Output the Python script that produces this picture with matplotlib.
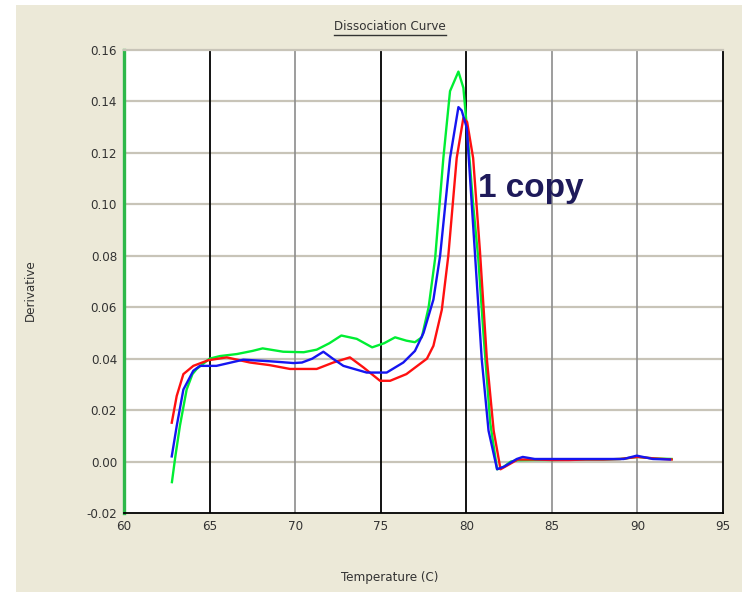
import matplotlib
matplotlib.use("Agg")
import matplotlib.pyplot as plt
from matplotlib.patches import Rectangle
from matplotlib.lines import Line2D
from matplotlib import font_manager

# Melt-curve derivative readings for three replicates
temp_green = [62.8, 63.0, 63.27, 63.66, 64.0, 64.25, 65.0, 65.6, 66.6, 67.5, 68.1, 69.3, 70.5,
              71.26, 72.0, 72.7, 73.6, 74.5, 75.2, 75.84, 76.5, 77.0, 77.4, 77.8, 78.18, 78.66,
              79.05, 79.54, 79.83, 80.1, 80.4, 80.7, 81.0, 81.4, 81.8, 82.2, 82.6, 83.0, 84.0,
              85.0, 86.0, 87.0, 88.0, 89.0, 90.0, 91.0, 92.0]
deriv_green = [-0.008, 0.002, 0.014, 0.028, 0.034, 0.036, 0.040, 0.041, 0.0418, 0.043, 0.044,
               0.0427, 0.0425, 0.0435, 0.046, 0.049, 0.0477, 0.0444, 0.046, 0.0483, 0.047,
               0.0464, 0.0483, 0.060, 0.079, 0.118, 0.144, 0.1516, 0.1453, 0.125, 0.100, 0.079,
               0.050, 0.015, -0.003, -0.002, 0.000, 0.0005, 0.0006, 0.0006, 0.0007, 0.0008,
               0.0008, 0.001, 0.0018, 0.0012, 0.001]

temp_red = [62.79, 63.08, 63.47, 64.05, 64.93, 66.0, 67.36, 68.5, 69.7, 71.26, 72.23, 73.2,
            73.99, 74.96, 75.55, 76.5, 77.7, 78.08, 78.57, 78.95, 79.44, 79.83, 80.05, 80.4,
            80.8, 81.2, 81.6, 82.0, 82.4, 83.0, 84.0, 85.0, 86.0, 87.0, 88.0, 89.0, 90.0,
            91.0, 92.0]
deriv_red = [0.0151, 0.0255, 0.034, 0.0372, 0.0394, 0.0405, 0.0385, 0.0375, 0.036, 0.036,
             0.0385, 0.0405, 0.0366, 0.0314, 0.0314, 0.034, 0.040, 0.045, 0.059, 0.080, 0.118,
             0.1336, 0.132, 0.118, 0.0816, 0.040, 0.012, -0.003, -0.0015, 0.0008, 0.0008,
             0.0006, 0.0006, 0.0008, 0.0008, 0.001, 0.0018, 0.0012, 0.0008]

temp_blue = [62.79, 63.08, 63.47, 64.05, 64.44, 65.4, 66.97, 68.5, 69.9, 70.4, 71.0, 71.65,
             72.2, 72.82, 74.18, 75.35, 76.32, 77.0, 77.5, 78.08, 78.47, 79.05, 79.54, 79.73,
             80.03, 80.5, 80.9, 81.3, 81.8, 82.2, 82.95, 83.3, 84.0, 86.84, 88.0, 89.2, 89.96,
             90.9, 91.9]
deriv_blue = [0.002, 0.0138, 0.028, 0.0353, 0.0372, 0.0372, 0.0396, 0.039, 0.0383, 0.0385,
              0.040, 0.0427, 0.040, 0.0372, 0.0346, 0.0346, 0.0385, 0.043, 0.050, 0.063, 0.080,
              0.118, 0.1378, 0.1365, 0.1297, 0.0816, 0.040, 0.012, -0.003, -0.002, 0.001,
              0.0018, 0.001, 0.001, 0.001, 0.001, 0.0023, 0.001, 0.0008]

x_ticks = [60, 65, 70, 75, 80, 85, 90, 95]
y_ticks = [-0.02, 0.00, 0.02, 0.04, 0.06, 0.08, 0.10, 0.12, 0.14, 0.16]
dark_vlines = [65, 75, 80]
light_vlines = [70, 85, 90]

W, H = 742, 592
BEIGE = "#ECE9D8"
TXT = "#333333"

# narrow UI-style face for the axis texts
narrow = font_manager.FontProperties(family="DejaVu Sans", stretch="condensed", size=9.5)

fig = plt.figure(figsize=(W / 100, H / 100), dpi=100)
fig.patch.set_facecolor("white")
fig.add_artist(Rectangle((16 / W, 0), 1 - 16 / W, (H - 5) / H, transform=fig.transFigure,
                         facecolor=BEIGE, edgecolor="none", zorder=-10))

ax = fig.add_axes([124 / W, 79 / H, 599 / W, 463 / H])
ax.set_facecolor("white")
ax.set_xlim(60, 95)
ax.set_ylim(-0.02, 0.16)

# grid
for y in y_ticks[1:-1]:
    ax.axhline(y, color="#C8C4B8", lw=1.6, zorder=1)
for x in light_vlines:
    ax.axvline(x, color="#8C8C8C", lw=1.2, zorder=1)
for x in dark_vlines:
    ax.axvline(x, color="black", lw=1.3, zorder=1)

ax.plot(temp_green, deriv_green, color="#00EE33", lw=1.7, zorder=3)
ax.plot(temp_red, deriv_red, color="#FF1010", lw=1.7, zorder=4)
ax.plot(temp_blue, deriv_blue, color="#1515F0", lw=1.7, zorder=5)

ax.spines["left"].set_color("#2DB84A")
ax.spines["left"].set_linewidth(2.4)
ax.spines["top"].set_color("#C8C4B8")
ax.spines["top"].set_linewidth(1.6)
ax.spines["right"].set_color("black")
ax.spines["right"].set_linewidth(1.3)
ax.spines["bottom"].set_color("black")
ax.spines["bottom"].set_linewidth(1.3)

ax.set_xticks(x_ticks)
ax.set_xticklabels([str(v) for v in x_ticks])
ax.set_yticks(y_ticks)
ax.set_yticklabels(["%.2f" % v for v in y_ticks])
ax.tick_params(length=0, labelcolor=TXT, pad=5)
for lab in ax.get_xticklabels() + ax.get_yticklabels():
    lab.set_fontproperties(narrow)

ax.text(80.7, 0.1063, "1 copy", fontsize=24, fontweight="bold", color="#1E1A5A",
        va="center", ha="left", family=["Liberation Sans", "DejaVu Sans"], zorder=6)

fig.text(30 / W, 1 - 290 / H, "Derivative", rotation=90, ha="center", va="center",
         color=TXT, fontproperties=narrow)
fig.text(390 / W, 1 - 578 / H, "Temperature (C)", ha="center", va="center",
         color=TXT, fontproperties=narrow)

title = fig.text(390 / W, 1 - 27 / H, "Dissociation Curve", ha="center", va="center",
                 color=TXT, fontproperties=narrow)
fig.canvas.draw()
bb = title.get_window_extent(renderer=fig.canvas.get_renderer())
uy = (bb.y0 - 1) / H
fig.add_artist(Line2D([bb.x0 / W, bb.x1 / W], [uy, uy], transform=fig.transFigure,
                      color=TXT, lw=1.0))

fig.savefig("out.png", dpi=100, facecolor=fig.get_facecolor())
